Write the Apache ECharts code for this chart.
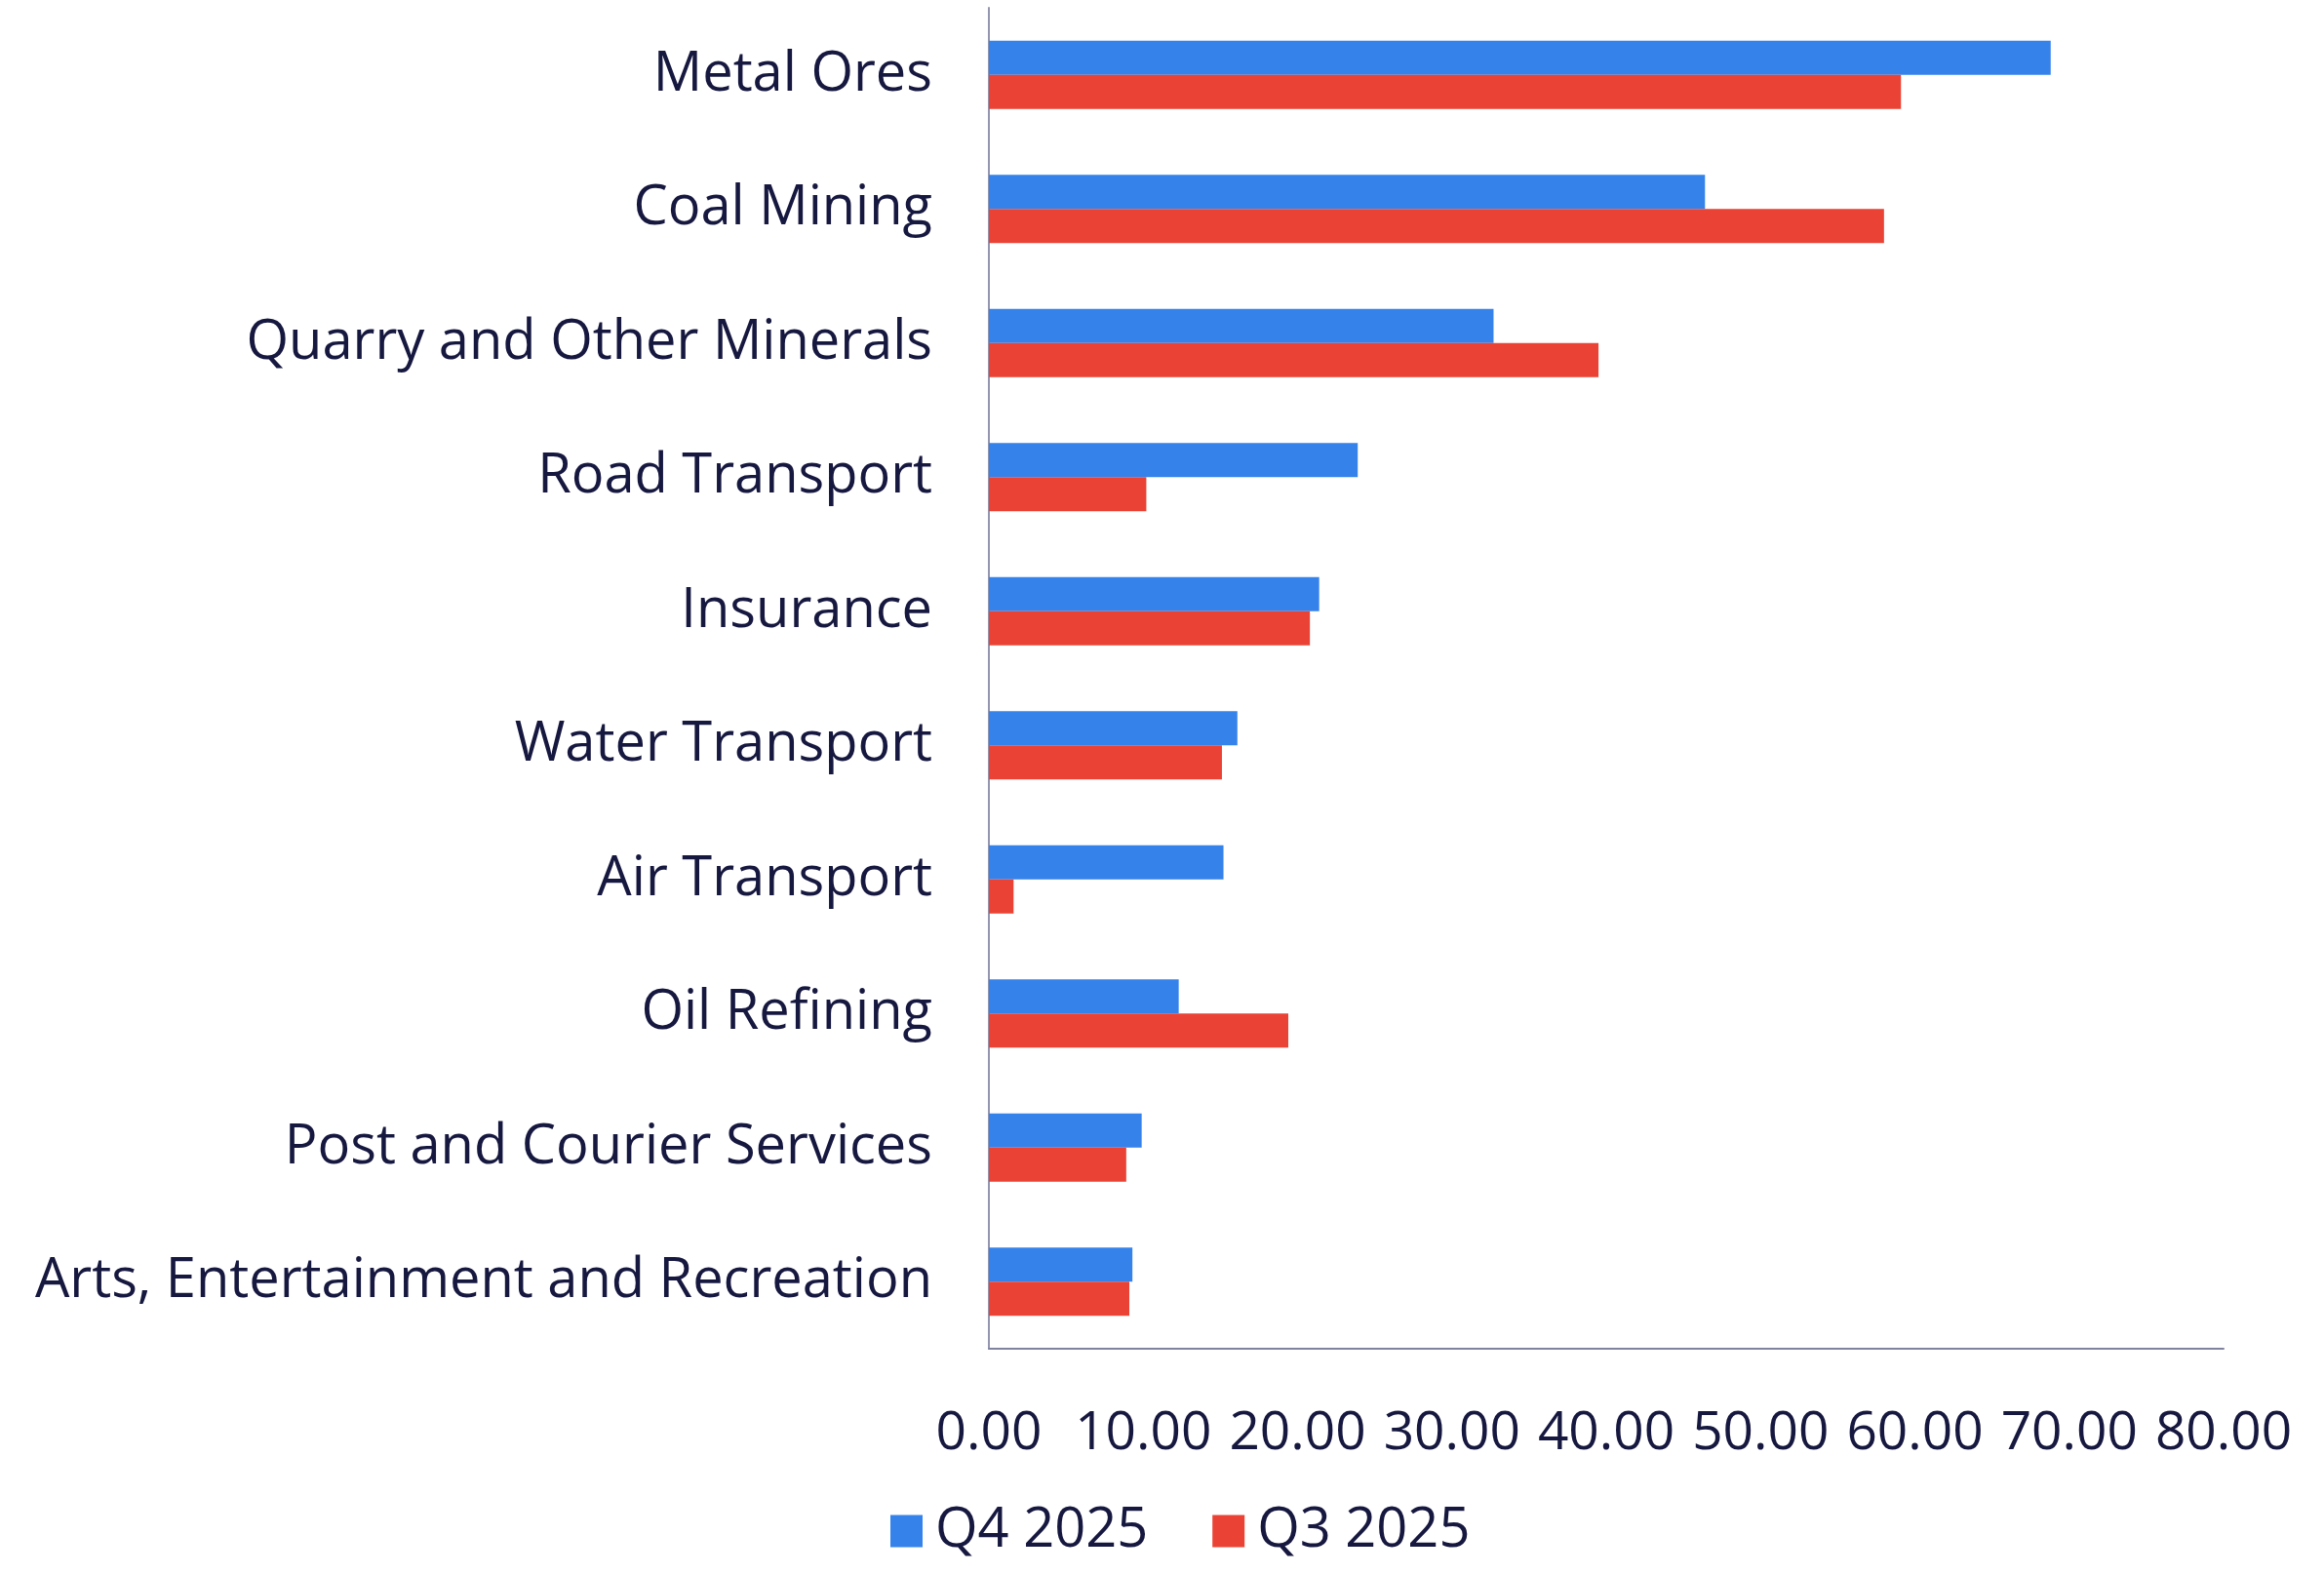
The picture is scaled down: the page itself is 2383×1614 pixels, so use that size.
<!DOCTYPE html>
<html>
<head>
<meta charset="utf-8">
<script src="https://cdn.jsdelivr.net/npm/echarts@6/dist/echarts.min.js"></script>
<style>
    html, body { margin: 0; padding: 0; background: #fff; }
    #chart { width: 2383px; height: 1614px; }
</style>
</head>
<body>
<div id="chart"></div>
<script>
const categories = [
    'Metal Ores',
    'Coal Mining',
    'Quarry and Other Minerals',
    'Road Transport',
    'Insurance',
    'Water Transport',
    'Air Transport',
    'Oil Refining',
    'Post and Courier Services',
    'Arts, Entertainment and Recreation'
];
const q4Values = [68.8, 46.4, 32.7, 23.9, 21.4, 16.1, 15.2, 12.3, 9.9, 9.3];
const q3Values = [59.1, 58.0, 39.5, 10.2, 20.8, 15.1, 1.6, 19.4, 8.9, 9.1];
const seriesNames = ['Q4 2025', 'Q3 2025'];

const textColor = '#16183f';
const fontFamily = '"Open Sans", "Noto Sans", sans-serif';

const chart = echarts.init(document.getElementById('chart'));
chart.setOption({
    animation: false,
    grid: {
        left: 1014,
        right: 103,
        top: 8,
        bottom: 231
    },
    legend: {
        data: seriesNames,
        left: 908,
        top: 1537,
        icon: 'rect',
        itemWidth: 33,
        itemHeight: 33,
        itemGap: 66,
        textStyle: {
            color: textColor,
            fontSize: 56,
            fontFamily: fontFamily,
            padding: [0, 0, 0, 8]
        }
    },
    xAxis: {
        type: 'value',
        min: 0,
        max: 80,
        interval: 10,
        axisLine: {
            show: true,
            lineStyle: { color: '#80839f', width: 2 }
        },
        axisTick: { show: false },
        splitLine: { show: false },
        axisLabel: {
            margin: 60,
            color: textColor,
            fontSize: 55,
            fontFamily: fontFamily,
            formatter: v => v.toFixed(2)
        }
    },
    yAxis: {
        type: 'category',
        inverse: true,
        data: categories,
        axisLine: {
            show: true,
            lineStyle: { color: '#9396ae', width: 2 }
        },
        axisTick: { show: false },
        axisLabel: {
            margin: 58,
            color: textColor,
            fontSize: 56,
            fontFamily: fontFamily,
            padding: [6, 0, 0, 0]
        }
    },
    series: [
        {
            name: seriesNames[0],
            type: 'bar',
            data: q4Values,
            barWidth: 35,
            barGap: '0%',
            itemStyle: { color: '#3582eb' }
        },
        {
            name: seriesNames[1],
            type: 'bar',
            data: q3Values,
            barWidth: 35,
            barGap: '0%',
            itemStyle: { color: '#ea4335' }
        }
    ]
});
</script>
</body>
</html>
